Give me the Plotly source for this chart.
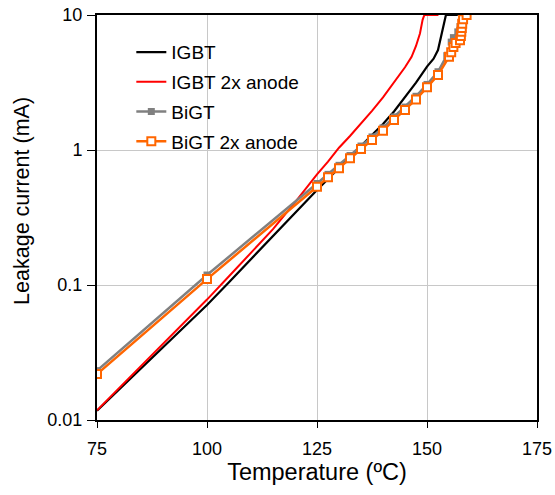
import plotly.graph_objects as go

# ---- data ----
igbt_t = [75, 80, 85, 90, 95, 100, 105, 110, 115, 120, 125, 127.5, 130, 132.5, 135, 137.5,
          140, 142.5, 145, 147.5, 150, 151.5, 152.5, 153.3, 154.1, 154.3, 157]
igbt_i = [0.0117, 0.0168, 0.0241, 0.0345, 0.0496, 0.0711, 0.105, 0.156, 0.231, 0.342, 0.506,
          0.611, 0.738, 0.893, 1.08, 1.30, 1.56, 1.93, 2.45, 3.15, 4.15, 4.75, 5.5, 7.3, 9.7, 10, 10]

igbt2_t = [75, 80, 85, 90, 95, 100, 105, 110, 115, 120, 125, 127.5, 130, 132.5, 135, 137.5,
           140, 142.5, 145, 146.5, 147.5, 148.4, 149, 149.4, 152.6]
igbt2_i = [0.0118, 0.0172, 0.0251, 0.0366, 0.0535, 0.078, 0.116, 0.174, 0.259, 0.41, 0.66,
           0.82, 1.04, 1.27, 1.56, 1.95, 2.45, 3.15, 4.1, 4.9, 5.9, 7.3, 9.2, 10, 10]

bigt_t = [75, 100, 125, 127.5, 130, 132.5, 135, 137.5, 140, 142.5, 145, 147.5, 150, 152.5,
          154.5, 155.5, 156, 157, 157.5, 158, 158.5]
bigt_i = [0.0232, 0.1186, 0.565, 0.66, 0.77, 0.91, 1.07, 1.25, 1.46, 1.76, 2.08, 2.5, 3.06, 3.8,
          5.0, 6.3, 6.8, 7.5, 8.2, 9.0, 10]

bigt2_t = [75, 100, 125, 127.5, 130, 132.5, 135, 137.5, 140, 142.5, 145, 147.5, 150, 152.5,
           155, 155.5, 156, 156.5, 157.5, 157.7, 157.8, 157.9, 158, 158.2, 159]
bigt2_i = [0.0219, 0.1106, 0.535, 0.628, 0.731, 0.867, 1.016, 1.186, 1.39, 1.67, 1.98, 2.37,
           2.91, 3.59, 4.9, 5.3, 5.8, 6.2, 6.5, 7.0, 7.5, 8.0, 8.6, 9.3, 10]

x_ticks = [75, 100, 125, 150, 175]
y_ticks = [0.01, 0.1, 1, 10]
y_labels = ["0.01", "0.1", "1", "10"]

FONT = "Liberation Sans, Arial, sans-serif"

fig = go.Figure()
fig.add_trace(go.Scatter(x=igbt_t, y=igbt_i, name="IGBT", mode="lines",
                         line=dict(color="black", width=2.2), legendgroup="a"))
fig.add_trace(go.Scatter(x=igbt2_t, y=igbt2_i, name="IGBT 2x anode", mode="lines",
                         line=dict(color="#ff0000", width=2), legendgroup="b"))
fig.add_trace(go.Scatter(x=bigt_t, y=bigt_i, name="BiGT", mode="lines+markers",
                         line=dict(color="#808080", width=2.5),
                         marker=dict(symbol="square", size=7, color="#808080"),
                         legendgroup="c"))
fig.add_trace(go.Scatter(x=bigt2_t, y=bigt2_i, name="BiGT 2x anode", mode="lines+markers",
                         line=dict(color="#ff6600", width=2.5),
                         marker=dict(symbol="square", size=8, color="white",
                                     line=dict(color="#ff6600", width=2)),
                         legendgroup="d"))

fig.update_layout(
    width=555, height=495,
    margin=dict(l=97, r=18, t=15, b=75),
    paper_bgcolor="white", plot_bgcolor="white",
    font=dict(family=FONT, size=18, color="black"),
    showlegend=True,
    legend=dict(x=0.078, y=0.955, xanchor="left", yanchor="top",
                bgcolor="rgba(0,0,0,0)", font=dict(size=19), tracegroupgap=2),
    xaxis=dict(range=[75, 175], tickvals=x_ticks, ticks="outside", ticklen=6,
               tickwidth=1, tickcolor="black", automargin=False, ticklabelstandoff=5,
               ticklabeloverflow="allow",
               showline=True, linecolor="black", linewidth=2, mirror=True,
               showgrid=True, gridcolor="#c8c8c8", gridwidth=1, zeroline=False,
               title=dict(text="Temperature (ºC)", font=dict(size=23.5), standoff=0)),
    yaxis=dict(type="log", range=[-2, 1], tickvals=y_ticks, ticktext=y_labels,
               ticks="outside", ticklen=8, tickwidth=1, tickcolor="black", automargin=False,
               ticklabelstandoff=1, ticklabeloverflow="allow",
               showline=True, linecolor="black", linewidth=2, mirror=True,
               showgrid=True, gridcolor="#c8c8c8", gridwidth=1, zeroline=False),
    annotations=[dict(text="Leakage current (mA)", textangle=-90, showarrow=False,
                      xref="paper", yref="paper", x=-0.1705, y=0.541,
                      xanchor="center", yanchor="middle", font=dict(size=21.5))],
)

fig.write_html("out.html", config={"displayModeBar": False},
               post_script="document.body.style.margin='0px';document.body.style.overflow='hidden';")
